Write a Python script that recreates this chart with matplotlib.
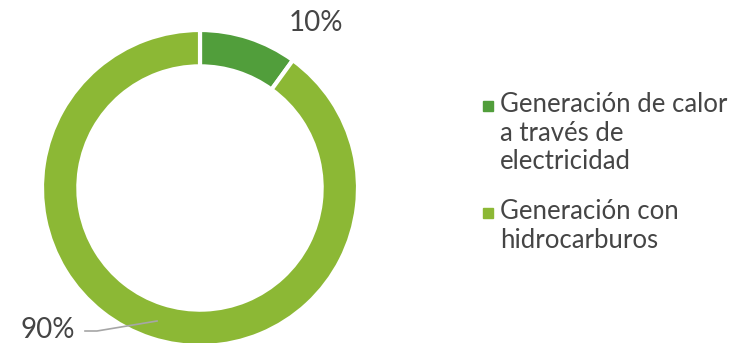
import matplotlib
matplotlib.use("Agg")
import matplotlib.pyplot as plt
from matplotlib.patches import Rectangle

categories = ["Generación de calor\na través de\nelectricidad", "Generación con\nhidrocarburos"]
values = [10, 90]
pct_labels = ["10%", "90%"]
colors = ["#519E3B", "#8CB835"]

W, H = 731, 343
fig = plt.figure(figsize=(W / 100, H / 100), dpi=100)
plt.rcParams['font.family'] = ['Lato', 'DejaVu Sans']

cx, cy, r = 200, 188, 158
ax = fig.add_axes([(cx - r) / W, (H - cy - r) / H, 2 * r / W, 2 * r / H])
wedges, _ = ax.pie(values, colors=colors, startangle=90, counterclock=False,
                   radius=1, wedgeprops=dict(width=0.23, edgecolor="white", linewidth=3))
for w in wedges:
    w.set_clip_on(False)
ax.set_xlim(-1, 1)
ax.set_ylim(-1, 1)
ax.set_aspect("equal")
ax.axis("off")

txt = "#454545"
# percentage labels
fig.text(316 / W, 1 - 23 / H, pct_labels[0], ha="center", va="center", fontsize=20, color=txt)
fig.text(48 / W, 1 - 330 / H, pct_labels[1], ha="center", va="center", fontsize=20, color=txt)
# leader line for 90%
fig.add_artist(plt.Line2D([85 / W, 97 / W, 157 / W], [1 - 331 / H, 1 - 331 / H, 1 - 321 / H],
                          color="#A6A6A6", lw=1.2))

# legend
ys = [106, 213]
for lab, col, y in zip(categories, colors, ys):
    fig.add_artist(Rectangle((483 / W, 1 - (y + 5) / H), 10 / W, 10 / H, color=col))
    fig.text(500 / W, 1 - (y - 14) / H, lab, ha="left", va="top", fontsize=18.5,
             color=txt, linespacing=1.18)

fig.savefig("out.png", dpi=100)
